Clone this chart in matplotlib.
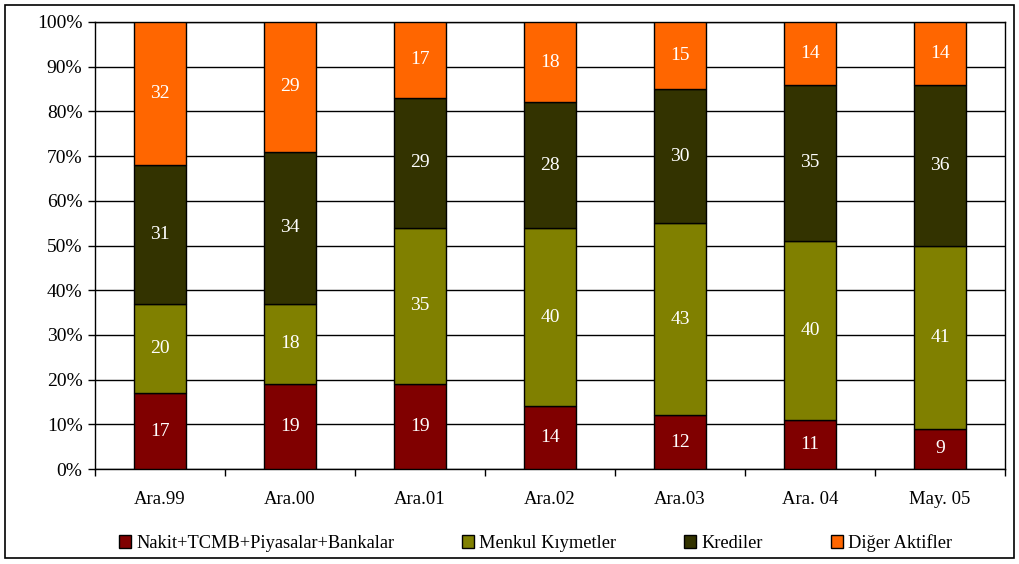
import matplotlib
matplotlib.use("Agg")
import matplotlib.pyplot as plt
from matplotlib.patches import Rectangle
import numpy as np

categories = ["Ara.99", "Ara.00", "Ara.01", "Ara.02", "Ara.03", "Ara. 04", "May. 05"]
nakit = [17, 19, 19, 14, 12, 11, 9]
menkul = [20, 18, 35, 40, 43, 40, 41]
krediler = [31, 34, 29, 28, 30, 35, 36]
diger = [32, 29, 17, 18, 15, 14, 14]
series_names = ["Nakit+TCMB+Piyasalar+Bankalar", "Menkul Kıymetler", "Krediler", "Diğer Aktifler"]
colors = ["#800000", "#808000", "#333300", "#FF6600"]

plt.rcParams['font.family'] = ['Liberation Serif', 'DejaVu Serif']
plt.rcParams['font.size'] = 13.5

fig = plt.figure(figsize=(10.2, 5.64), dpi=100)
ax = fig.add_axes([95/1020, 1-469/564, 910/1020, 447/564])

x = np.arange(len(categories))
bottom = np.zeros(len(categories))
handles = []
for vals, name, col in zip([nakit, menkul, krediler, diger], series_names, colors):
    vals = np.array(vals, dtype=float)
    bars = ax.bar(x, vals, 0.4, bottom=bottom, color=col, edgecolor="black", linewidth=1, label=name, zorder=3)
    for xi, v, b in zip(x, vals, bottom):
        ax.text(xi, b + v/2, f"{int(v)}", ha="center", va="center", color="white", fontsize=14, zorder=4)
    bottom += vals
    handles.append(bars)

ax.set_xlim(-0.5, len(categories) - 0.5)
ax.set_ylim(0, 100)
ax.set_yticks(np.arange(0, 101, 10))
ax.set_yticklabels([f"{v}%" for v in range(0, 101, 10)], fontsize=14)
ax.yaxis.grid(True, color="black", linewidth=1, zorder=0)
ax.set_axisbelow(True)
ax.set_xticks(x)
ax.set_xticklabels(categories, fontsize=13.5)
ax.set_xticks(np.arange(-0.5, len(categories) + 0.5, 1), minor=True)
ax.tick_params(axis="x", which="major", length=0, pad=16)
ax.tick_params(axis="x", which="minor", length=5, width=1, direction="out")
ax.tick_params(axis="y", length=5, width=1, direction="out", pad=4)
for s in ax.spines.values():
    s.set_linewidth(1)
    s.set_color("black")

leg = fig.legend(handles=handles, labels=series_names, loc="center", bbox_to_anchor=(0.525, 1-543/564),
                 ncol=4, frameon=False, fontsize=13.2, handlelength=0.65, handleheight=0.65,
                 handletextpad=0.3, columnspacing=3.7)

fig.patches.append(Rectangle((5/1020, 1-558/564), 1009/1020, 553/564, transform=fig.transFigure,
                             fill=False, edgecolor="black", linewidth=1.2))

fig.savefig("out.png", dpi=100)
